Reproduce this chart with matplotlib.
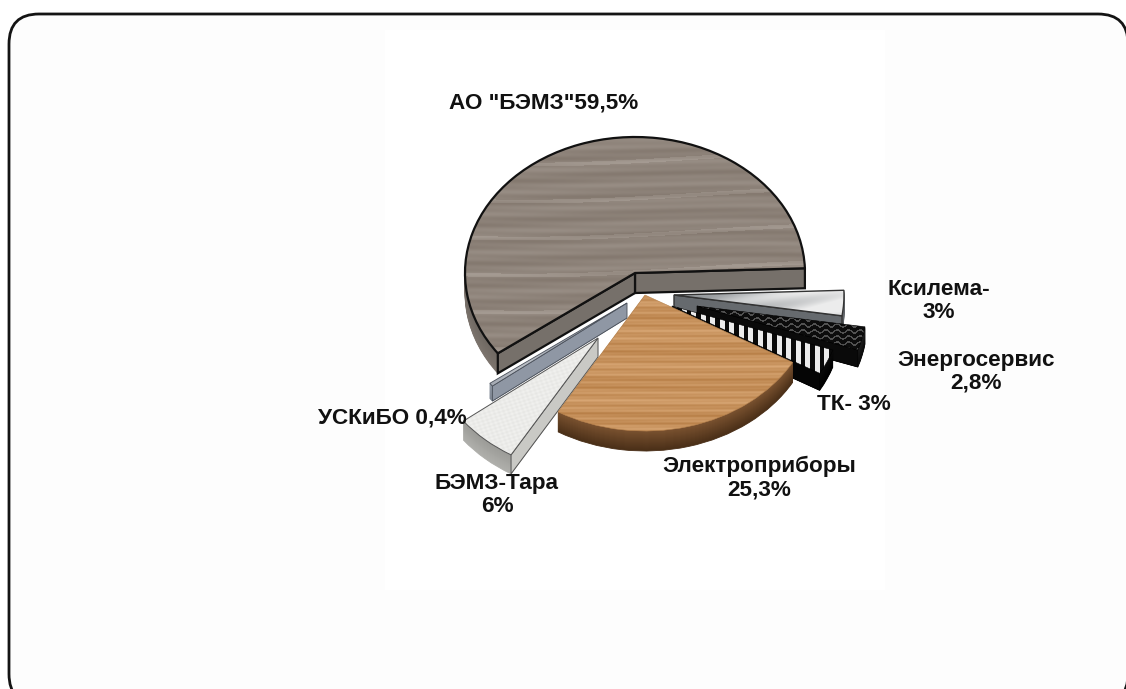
import numpy as np
import matplotlib
matplotlib.use("Agg")
import matplotlib.pyplot as plt
from matplotlib.patches import FancyBboxPatch, Rectangle, Wedge, Polygon
from matplotlib.colors import to_rgb

# ---- data
categories = ['АО "БЭМЗ"', 'УСКиБО', 'БЭМЗ-Тара', 'Электроприборы', 'ТК', 'Энергосервис', 'Ксилема']
shares = [59.5, 0.4, 6.0, 25.3, 3.0, 2.8, 3.0]
label_texts = ['АО "БЭМЗ"59,5%', 'УСКиБО 0,4%', 'БЭМЗ-Тара\n6%', 'Электроприборы\n25,3%',
               'ТК- 3%', 'Энергосервис\n2,8%', 'Ксилема-\n3%']

# ---- layout (pixels of the 1126x689 picture)
W, H = 1126, 689
RX, RY = 170.0, 136.0
START = 2.0
apex = [(635, 273), (627, 303), (598, 338), (645, 295), (672, 306), (697, 306), (674, 295)]
depth = [20, 15, 19, 20, 17, 17, 17]
label_pos = [(544, 103), (392, 418), (497, 495), (759, 478), (854, 405), (976, 372), (939, 301)]
draw_order = [0, 6, 5, 4, 1, 2, 3]

# ---- styles
arc_top = ['#6f6862', '#8d95a1', '#9c9c98', '#7a5230', '#0a0a0a', '#1c1c1c', '#6b6f73']
arc_bot = ['#7d756e', '#7d8591', '#b0b0ac', '#4a2f18', '#000000', '#0a0a0a', '#55595d']
cut_col = ['#76706a', '#8f97a4', '#c9c9c5', '#5e3d1f', '#050505', '#0a0a0a', '#666a6e']
edge_col = ['#111111', '#4a505a', '#555555', '#b9854f', '#000000', '#000000', '#333333']
edge_w = [1.6, 0.6, 0.7, 0.4, 0.4, 0.4, 1.0]

Y, X = np.mgrid[0:H, 0:W].astype(float)


def ramp(v, c0, c1):
    v = np.clip(v, 0, 1)[..., None]
    return np.array(to_rgb(c0)) * (1 - v) + np.array(to_rgb(c1)) * v


def texture(i):
    if i == 0:
        v = 0.40 + 0.09 * np.sin(Y * 0.31 + 1.8 * np.sin(X * 0.011)) \
            + 0.06 * np.sin(Y * 0.83 + 1.1 * np.sin(X * 0.017 + 1)) \
            + 0.22 * (np.sin(Y * 0.17 + 1.2 * np.sin(X * 0.009)) > 0.95)
        return ramp(v, '#75695f', '#b3aaa2')
    if i == 1:
        return ramp(0.5 + 0.3 * np.sin((X + Y) * 0.2), '#9aa0aa', '#c3c7cd')
    if i == 2:
        v = 0.65 + 0.15 * np.sin(X * 0.9 + Y * 0.6) * np.sin(X * 0.37 - Y * 1.1)
        return ramp(v, '#d5d5d2', '#f8f8f6')
    if i == 3:
        v = 0.5 + 0.13 * np.sin(Y * 0.71 + 0.8 * np.sin(X * 0.015)) \
            + 0.09 * np.sin(Y * 1.73 + X * 0.012) + 0.08 * np.sin(Y * 0.19 + 1)
        return ramp(v, '#ad7238', '#e2b383')
    if i == 4:
        v = (np.sin(2 * np.pi * (X - 672) / 9.5) > -0.1).astype(float)
        return ramp(v, '#0a0a0a', '#ececec')
    if i == 5:
        v = (np.mod(Y + 1.6 * np.sin(X * 0.55), 6.0) < 1.8).astype(float) * 0.55
        return ramp(v, '#0c0c0c', '#8a8a8a')
    v = 0.25 + (X - 675) / 210.0 + 0.16 * np.sin(X * 0.05 + Y * 0.3)
    return ramp(v, '#7f8488', '#ececec')


fig = plt.figure(figsize=(W / 100, H / 100), dpi=100, facecolor='white')

# background card, drawn in pixel units
px = fig.add_axes([0, 0, 1, 1], zorder=0)
px.set_xlim(0, W)
px.set_ylim(H, 0)
px.axis('off')
px.add_patch(FancyBboxPatch((9 + 30, 14 + 30), 1119 - 60, 690 - 60,
                            boxstyle='round,pad=30,rounding_size=30',
                            fc='#fdfdfd', ec='#141414', lw=2.0, clip_on=True))
px.add_patch(Rectangle((385, 30), 500, 560, fc='#ffffff', ec='none'))

# pie axes: one data unit is one radius in each direction
ax = fig.add_axes([0, 0, 1, 1], zorder=1)
ax.patch.set_alpha(0)
wedges, _ = ax.pie(shares, startangle=START, radius=1.0, wedgeprops={'linewidth': 0})


def to_data(p, dy=0.0):
    return p[0] / RX, (H - p[1] - dy) / RY


for w in wedges:
    w.set_visible(False)

for z, i in enumerate(draw_order):
    w = wedges[i]
    base = 10 * (z + 1)
    a1, a2 = w.theta1, w.theta2
    d = depth[i]
    # rim: stacked copies of the slice, bottom layer first
    for k in range(d, 0, -1):
        t = k / d
        col = tuple(np.array(to_rgb(arc_top[i])) * (1 - t) + np.array(to_rgb(arc_bot[i])) * t)
        ax.add_patch(Wedge(to_data(apex[i], k), 1.0, a1, a2, fc=col, ec=col, lw=0.6, zorder=base))
    # cut faces that look towards the viewer
    c0 = np.array(to_data(apex[i]))
    low = np.array([0, d / RY])
    for a, seen in ((a1, np.cos(np.radians(a1)) > 0), (a2, np.cos(np.radians(a2)) < 0)):
        if seen:
            p = c0 + [np.cos(np.radians(a)), np.sin(np.radians(a))]
            ax.add_patch(Polygon([c0, p, p - low, c0 - low], closed=True, fc=cut_col[i],
                                 ec=edge_col[i], lw=edge_w[i], zorder=base + 1))
    # top face with its material
    top = Wedge(to_data(apex[i]), 1.0, a1, a2, fc='none', ec=edge_col[i], lw=edge_w[i], zorder=base + 3)
    ax.add_patch(top)
    clip = Wedge(to_data(apex[i]), 1.0, a1, a2, fc='none', ec='none', zorder=base + 2)
    ax.add_patch(clip)
    im = ax.imshow(texture(i), extent=(0, W / RX, 0, H / RY), origin='upper',
                   aspect='auto', zorder=base + 2, interpolation='bilinear')
    im.set_clip_path(clip)

ax.set_aspect('auto')
ax.set_xlim(0, W / RX)
ax.set_ylim(0, H / RY)
ax.axis('off')

for txt, pos in zip(label_texts, label_pos):
    ax.text(pos[0], pos[1], txt, transform=px.transData, ha='center', va='center',
            family='Liberation Sans', weight='bold', fontsize=16.2, color='#111111',
            linespacing=1.12, zorder=200)

fig.savefig('out.png', dpi=100, facecolor='white')
